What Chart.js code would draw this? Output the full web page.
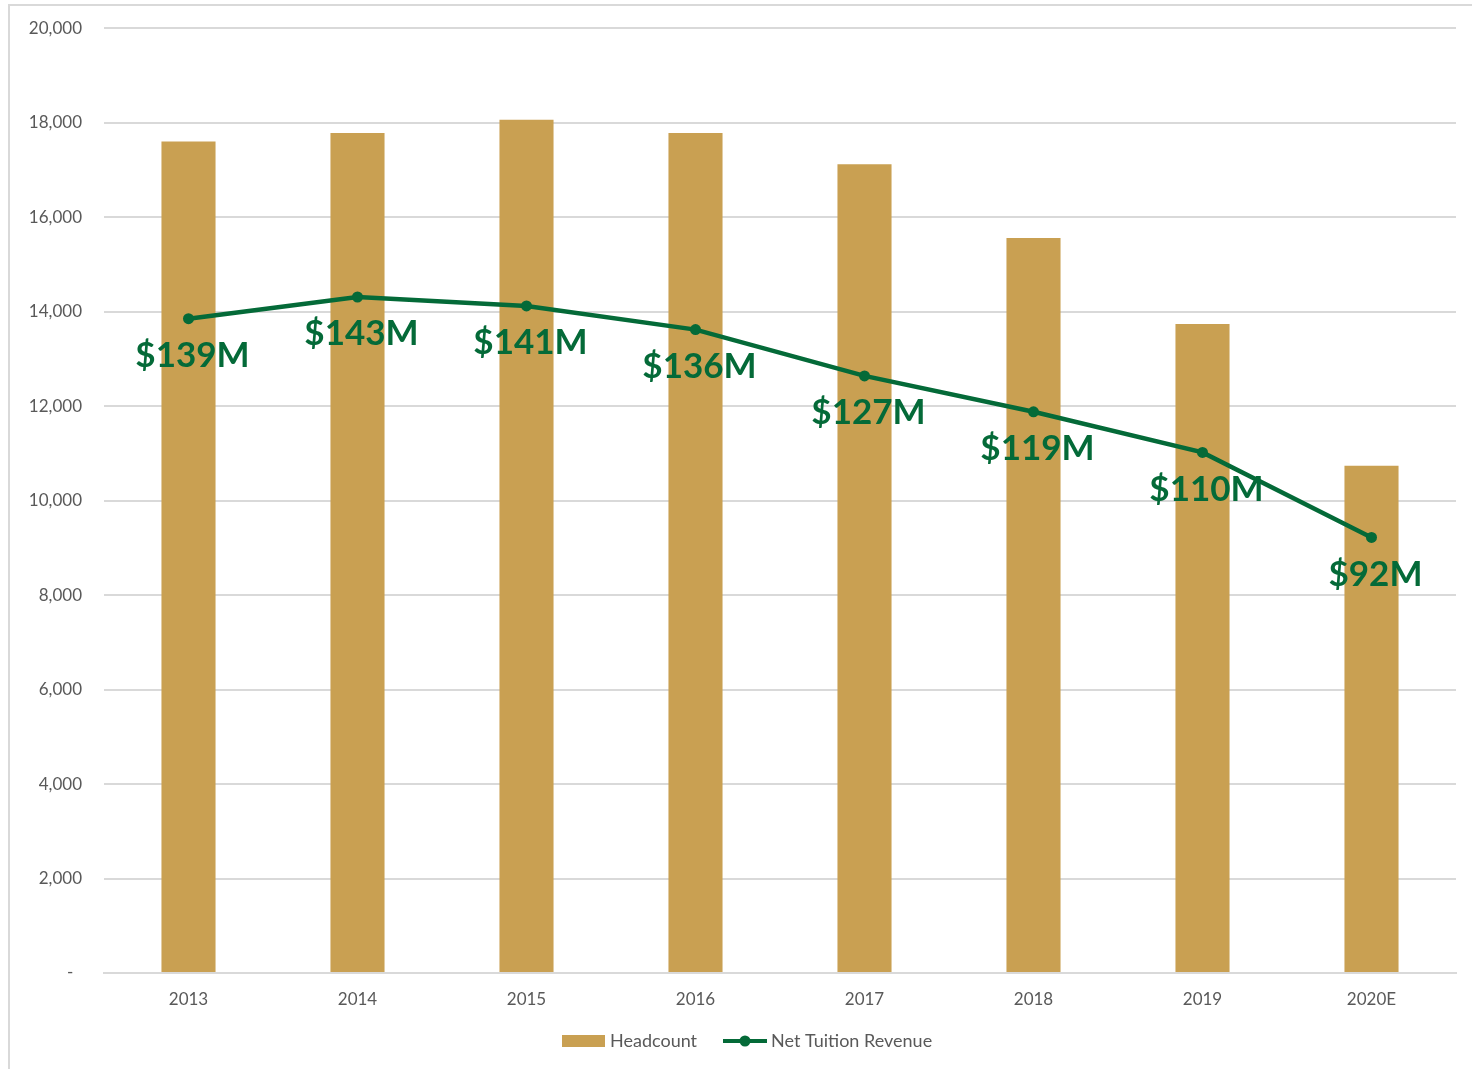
<!DOCTYPE html>
<html>
<head>
<meta charset="utf-8">
<script src="https://cdn.jsdelivr.net/npm/chart.js@4/dist/chart.umd.min.js"></script>
<style>
  html, body { margin: 0; padding: 0; background: #fff; overflow: hidden; }
  #frame { position: absolute; left: 8px; top: 4px; width: 1500px; height: 1100px; border-left: 2px solid #d9d9d9; border-top: 2px solid #d9d9d9; }
  #wrap { position: absolute; left: 0; top: -4px; width: 1472px; height: 1073px; }
</style>
</head>
<body>
<div id="frame"></div>
<div id="wrap"><canvas id="c" width="1472" height="1073"></canvas></div>
<script>
const categories = ['2013', '2014', '2015', '2016', '2017', '2018', '2019', '2020E'];
const headcount = [17600, 17780, 18060, 17780, 17120, 15560, 13740, 10740];
const revenue = [138.5, 143.1, 141.2, 136.2, 126.4, 118.8, 110.2, 92.2];
const revenueLabels = ['$139M', '$143M', '$141M', '$136M', '$127M', '$119M', '$110M', '$92M'];
const seriesNames = ['Headcount', 'Net Tuition Revenue'];

const GOLD = '#C9A052';
const GREEN = '#046A38';
const TEXT = '#595959';
const GRID = '#d9d9d9';

const labelPlugin = {
  id: 'revLabels',
  afterDatasetsDraw(chart) {
    const ctx = chart.ctx;
    const meta = chart.getDatasetMeta(1);
    ctx.save();
    ctx.font = 'bold 35px Lato';
    ctx.fillStyle = GREEN;
    ctx.textAlign = 'center';
    ctx.textBaseline = 'middle';
    meta.data.forEach((pt, i) => {
      ctx.fillText(revenueLabels[i], pt.x + 4, pt.y + 37);
    });
    ctx.restore();
  }
};

const legendPlugin = {
  id: 'customLegend',
  afterDraw(chart) {
    const ctx = chart.ctx;
    const y = 1045;
    ctx.save();
    ctx.font = '18px Lato';
    ctx.textBaseline = 'middle';
    ctx.textAlign = 'left';
    ctx.fillStyle = GOLD;
    ctx.fillRect(562, y - 6, 43, 12);
    ctx.fillStyle = TEXT;
    ctx.fillText(chart.data.datasets[0].label, 610, y);
    ctx.strokeStyle = GREEN;
    ctx.lineWidth = 4;
    ctx.beginPath();
    ctx.moveTo(723, y);
    ctx.lineTo(767, y);
    ctx.stroke();
    ctx.fillStyle = GREEN;
    ctx.beginPath();
    ctx.arc(745, y, 5.5, 0, Math.PI * 2);
    ctx.fill();
    ctx.fillStyle = TEXT;
    ctx.fillText(chart.data.datasets[1].label, 771, y);
    ctx.restore();
  }
};

new Chart(document.getElementById('c'), {
  data: {
    labels: categories,
    datasets: [
      {
        type: 'bar',
        label: seriesNames[0],
        data: headcount,
        yAxisID: 'y',
        backgroundColor: GOLD,
        categoryPercentage: 1,
        barPercentage: 0.32,
        order: 1
      },
      {
        type: 'line',
        label: seriesNames[1],
        data: revenue,
        yAxisID: 'y1',
        borderColor: GREEN,
        backgroundColor: GREEN,
        borderWidth: 4.5,
        pointRadius: 5.5,
        pointBackgroundColor: GREEN,
        pointBorderWidth: 0,
        tension: 0,
        order: 0
      }
    ]
  },
  plugins: [labelPlugin, legendPlugin],
  options: {
    responsive: false,
    animation: false,
    layout: { padding: { left: 9, top: 23, right: 16, bottom: 0 } },
    plugins: { legend: { display: false }, tooltip: { enabled: false } },
    scales: {
      x: {
        grid: { display: false, drawTicks: false },
        border: { display: true, color: GRID, width: 2 },
        ticks: { color: TEXT, font: { family: 'Lato', size: 17 }, padding: 16 },
        afterFit: (s) => { s.height = 96; }
      },
      y: {
        min: 0, max: 20000,
        ticks: {
          stepSize: 2000,
          color: TEXT,
          font: { family: 'Lato', size: 17 },
          padding: 22,
          callback: (v) => v === 0 ? '-  ' : v.toLocaleString('en-US')
        },
        grid: { color: GRID, lineWidth: 2, drawTicks: false },
        border: { display: false },
        afterFit: (s) => { s.width = 95; }
      },
      y1: {
        display: false,
        min: 0, max: 200,
        grid: { display: false }
      }
    }
  }
});
</script>
</body>
</html>
